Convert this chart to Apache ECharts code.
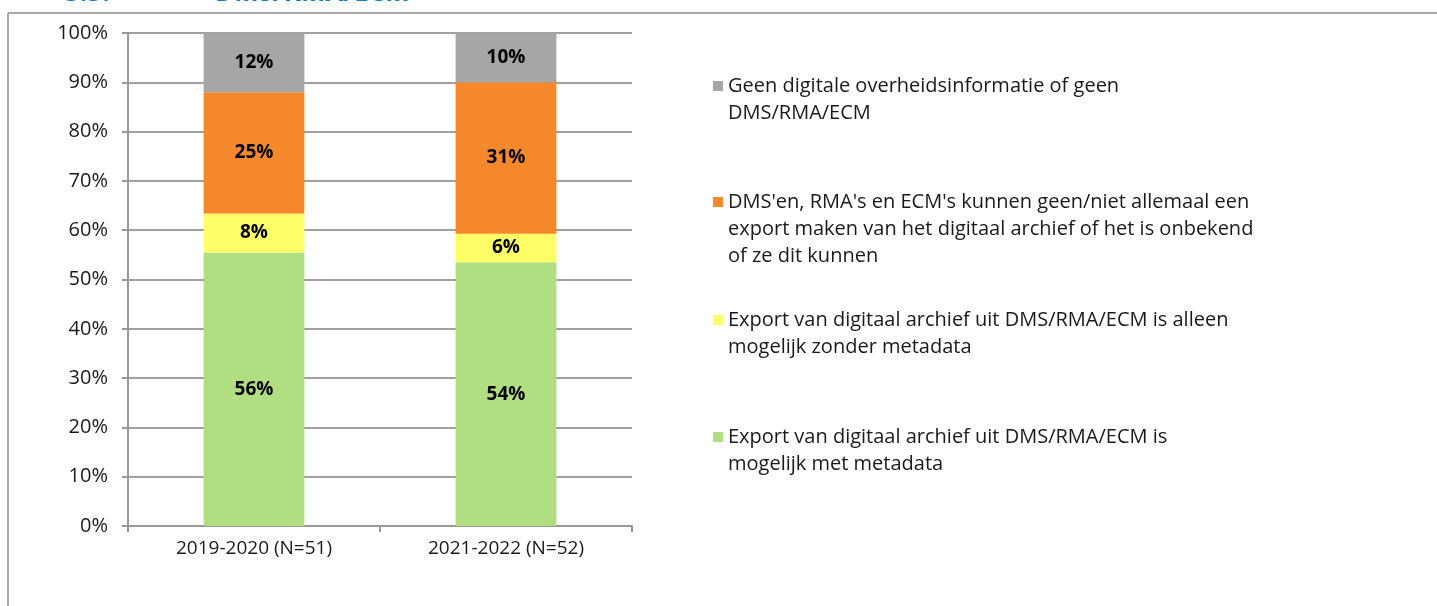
<!DOCTYPE html>
<html>
<head>
<meta charset="utf-8">
<script src="https://cdn.jsdelivr.net/npm/echarts@6/dist/echarts.min.js"></script>
<style>
html,body{margin:0;padding:0;background:#fff;}
#chart{width:1437px;height:606px;}
</style>
</head>
<body>
<div id="chart"></div>
<script>
const categories = ['2019-2020 (N=51)', '2021-2022 (N=52)'];
const seriesNames = [
  'Export van digitaal archief uit DMS/RMA/ECM is\nmogelijk met metadata',
  'Export van digitaal archief uit DMS/RMA/ECM is alleen\nmogelijk zonder metadata',
  "DMS'en, RMA's en ECM's kunnen geen/niet allemaal een\nexport maken van het digitaal archief of het is onbekend\nof ze dit kunnen",
  'Geen digitale overheidsinformatie of geen\nDMS/RMA/ECM'
];
const greenValues = [55.5, 53.5];
const yellowValues = [7.9, 5.8];
const orangeValues = [24.6, 30.7];
const grayValues = [12.0, 10.0];
const colors = ['#b2de82', '#ffff66', '#f5882a', '#a6a6a6'];
const yTicks = {min: 0, max: 100, interval: 10};
const titleNum = '5.5.';
const titleText = 'DMS/RMA/ECM';

const FONT = 'Open Sans';
const allValues = [greenValues, yellowValues, orangeValues, grayValues];

const chart = echarts.init(document.getElementById('chart'));

const series = allValues.map((vals, i) => ({
  name: seriesNames[i],
  type: 'bar',
  stack: 'total',
  barWidth: '40%',
  data: vals,
  itemStyle: {color: colors[i]},
  label: {
    show: true,
    position: 'inside',
    formatter: p => Math.round(p.value) + '%',
    fontFamily: FONT,
    fontWeight: 'bold',
    fontSize: 19,
    color: '#000'
  },
  emphasis: {disabled: true}
}));

const LH = 27;
const iconCenters = [437, 320, 202, 86];
const legends = seriesNames.map((name, i) => {
  const n = name.split('\n').length;
  return {
    data: [name],
    left: 713,
    top: iconCenters[i] - (2 * n - 1) * LH / 2,
    orient: 'vertical',
    icon: 'rect',
    itemWidth: 10,
    itemHeight: 10,
    itemGap: 0,
    padding: 0,
    selectedMode: false,
    formatter: nm => ' \n'.repeat(nm.split('\n').length - 1) + nm,
    textStyle: {
      fontFamily: FONT,
      fontSize: 20,
      color: '#1a1a1a',
      lineHeight: LH
    }
  };
});

chart.setOption({
  animation: false,
  backgroundColor: '#fff',
  grid: {left: 128, right: 805, top: 33, bottom: 80, containLabel: false},
  legend: legends,
  xAxis: {
    type: 'category',
    data: categories,
    axisLine: {lineStyle: {color: '#999', width: 2}},
    axisTick: {show: true, length: 6, lineStyle: {color: '#999', width: 2}},
    axisLabel: {fontFamily: FONT, fontSize: 19, color: '#1a1a1a', margin: 13}
  },
  yAxis: {
    type: 'value',
    min: yTicks.min, max: yTicks.max, interval: yTicks.interval,
    axisLine: {show: true, lineStyle: {color: '#999', width: 2}},
    axisTick: {show: true, length: 6, lineStyle: {color: '#999', width: 2}},
    splitLine: {lineStyle: {color: '#a0a0a0', width: 2}},
    axisLabel: {formatter: '{value}%', fontFamily: FONT, fontSize: 20, color: '#1a1a1a', margin: 20}
  },
  series: series,
  graphic: [
    {type: 'line', shape: {x1: 8, y1: 13, x2: 1437, y2: 13}, style: {stroke: '#8c8c8c', lineWidth: 1.5}, silent: true},
    {type: 'line', shape: {x1: 8, y1: 13, x2: 8, y2: 606}, style: {stroke: '#8c8c8c', lineWidth: 1.5}, silent: true},
    {type: 'text', left: 65, top: -19, style: {text: titleNum, fontFamily: FONT, fontWeight: 'bold', fontSize: 26, fill: '#1679b6'}, silent: true},
    {type: 'text', left: 215, top: -19, style: {text: titleText, fontFamily: FONT, fontWeight: 'bold', fontSize: 26, fill: '#1679b6'}, silent: true}
  ]
});
</script>
</body>
</html>
